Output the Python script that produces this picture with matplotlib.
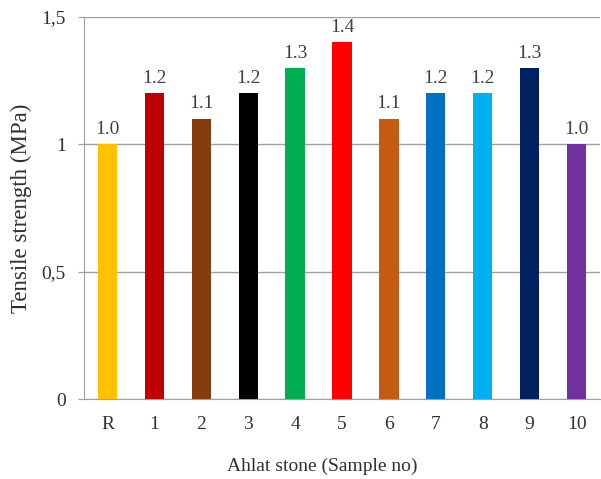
import matplotlib.pyplot as plt

samples = ["R", "1", "2", "3", "4", "5", "6", "7", "8", "9", "10"]
strength = [1.0, 1.2, 1.1, 1.2, 1.3, 1.4, 1.1, 1.2, 1.2, 1.3, 1.0]
colors = ["#FFC000", "#C00000", "#843C0C", "#000000", "#00B050", "#FF0000",
          "#C55A11", "#0070C0", "#00B0F0", "#002060", "#7030A0"]
yticks = [0, 0.5, 1, 1.5]
ytick_labels = ["0", "0,5", "1", "1,5"]

plt.rcParams["font.family"] = "Liberation Serif"

fig = plt.figure(figsize=(6.01, 4.79), dpi=100)
ax = fig.add_axes([84 / 601, 80 / 479, 516 / 601, 382 / 479])

x = range(len(samples))
ax.bar(x, strength, width=0.41, color=colors, zorder=3)
for i, v in zip(x, strength):
    ax.text(i, v + 0.025, f"{v:.1f}", ha="center", va="bottom", fontsize=14, color="#404040")

ax.set_xlim(-0.5, len(samples) - 0.5)
ax.set_ylim(0, 1.5)
ax.set_yticks(yticks)
ax.set_yticklabels(ytick_labels)
ax.set_xticks(list(x))
ax.set_xticklabels(samples)
ax.tick_params(axis="y", length=4, color="#a0a0a0", labelsize=14, pad=9, labelcolor="#303030")
ax.tick_params(axis="x", length=0, labelsize=14, pad=12, labelcolor="#303030")
ax.yaxis.grid(True, color="#a0a0a0", linewidth=1, zorder=0)

for s in ["top", "right"]:
    ax.spines[s].set_visible(False)
for s in ["left", "bottom"]:
    ax.spines[s].set_color("#a0a0a0")

ax.set_ylabel("Tensile strength (MPa)", fontsize=16.5, labelpad=7, color="#303030")
ax.set_xlabel("Ahlat stone (Sample no)", fontsize=14, labelpad=18, color="#303030")
ax.xaxis.label.set_x(0.461)

fig.savefig("out.png", dpi=100)
